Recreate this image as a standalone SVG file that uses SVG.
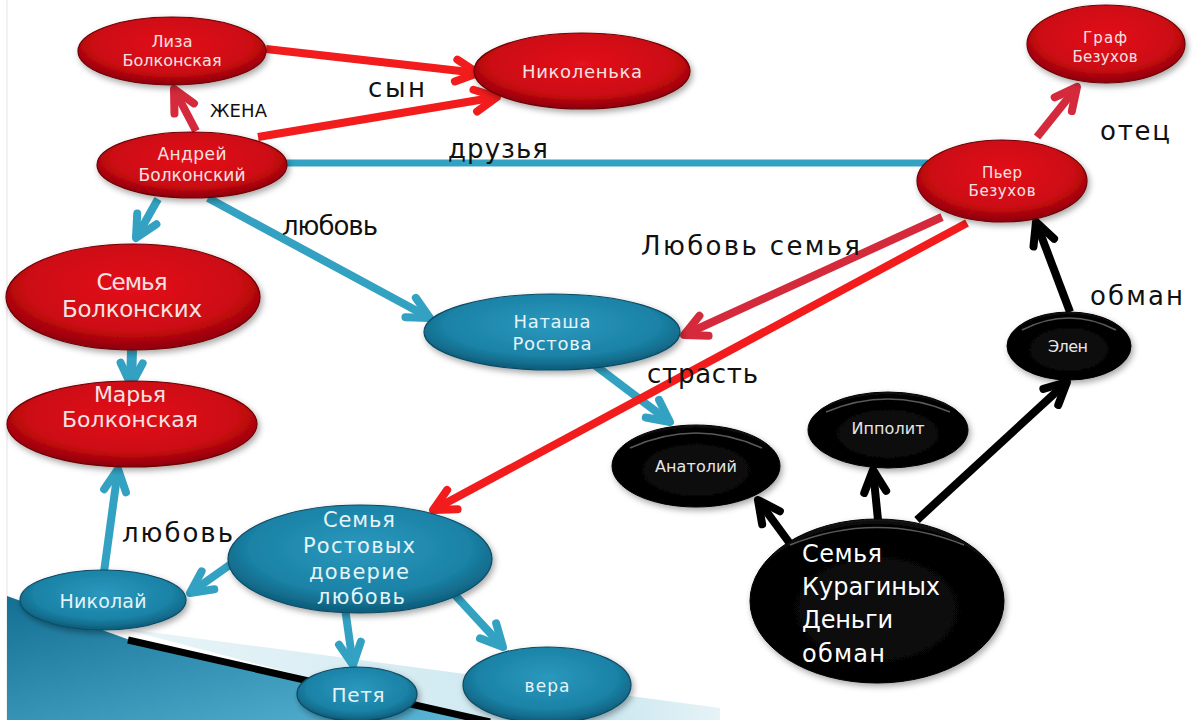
<svg xmlns="http://www.w3.org/2000/svg" width="1196" height="720" viewBox="0 0 1196 720">
<defs>
<style>
.lbl{font-family:"DejaVu Sans","Liberation Sans",sans-serif;font-size:26px;fill:#111;}
.nt{font-family:"DejaVu Sans","Liberation Sans",sans-serif;text-anchor:middle;}
.tr{fill:#f6e2e2;}
.tb{fill:#e4f4f9;}
.tk{fill:#e6e6e6;}
.red{fill:url(#gRed);stroke:#6e0006;stroke-width:1.2;filter:url(#sh);}
.blue{fill:url(#gBlue);stroke:#0b4a63;stroke-width:1.2;filter:url(#sh);}
.blk{fill:url(#gBlk);stroke:#000;stroke-width:1;filter:url(#sh);}
.gloss{fill:none;stroke:#fff;stroke-opacity:0.35;stroke-width:1.5;}
.c{fill:none;stroke-width:8;stroke-linecap:butt;}
.cr{stroke:#f21c1c;marker-end:url(#mRed);}
.cc{stroke:#d42a3b;marker-end:url(#mCrim);}
.cb{stroke:#33a2c2;marker-end:url(#mBlue);}
.ck{stroke:#000;marker-end:url(#mBlk);}
.mk{fill:none;stroke-width:8;stroke-linecap:round;stroke-linejoin:round;}
</style>
<radialGradient id="gRed" cx="50%" cy="40%" r="60%">
<stop offset="0" stop-color="#e3121b"/>
<stop offset="0.7" stop-color="#cc0a12"/>
<stop offset="1" stop-color="#8a0007"/>
</radialGradient>
<radialGradient id="gBlue" cx="50%" cy="40%" r="60%">
<stop offset="0" stop-color="#2b98bd"/>
<stop offset="0.7" stop-color="#1a82a6"/>
<stop offset="1" stop-color="#0d5b78"/>
</radialGradient>
<radialGradient id="gBlk" cx="50%" cy="55%" r="60%">
<stop offset="0" stop-color="#111"/>
<stop offset="0.85" stop-color="#000"/>
<stop offset="1" stop-color="#3a3a3a"/>
</radialGradient>
<linearGradient id="gSlab" x1="0" y1="0" x2="1" y2="1">
<stop offset="0" stop-color="#136f93"/>
<stop offset="1" stop-color="#5ab6d6"/>
</linearGradient>
<linearGradient id="gBand" x1="0" y1="0" x2="1" y2="0">
<stop offset="0" stop-color="#e9f5f9"/>
<stop offset="0.8" stop-color="#c9e6ef"/>
<stop offset="1" stop-color="#e6f3f7"/>
</linearGradient>
<filter id="sh" x="-20%" y="-20%" width="140%" height="150%">
<feDropShadow dx="2" dy="3" stdDeviation="3" flood-color="#000" flood-opacity="0.35"/>
</filter>
<marker id="mRed" viewBox="0 0 30 30" markerWidth="30" markerHeight="30" refX="25" refY="15" orient="auto" markerUnits="userSpaceOnUse" overflow="visible"><path class="mk" stroke="#f21c1c" d="M3,4 L25,15 L3,26"/></marker>
<marker id="mCrim" viewBox="0 0 30 30" markerWidth="30" markerHeight="30" refX="25" refY="15" orient="auto" markerUnits="userSpaceOnUse" overflow="visible"><path class="mk" stroke="#d42a3b" d="M3,4 L25,15 L3,26"/></marker>
<marker id="mBlue" viewBox="0 0 30 30" markerWidth="30" markerHeight="30" refX="25" refY="15" orient="auto" markerUnits="userSpaceOnUse" overflow="visible"><path class="mk" stroke="#33a2c2" d="M3,4 L25,15 L3,26"/></marker>
<marker id="mBlk" viewBox="0 0 30 30" markerWidth="30" markerHeight="30" refX="25" refY="15" orient="auto" markerUnits="userSpaceOnUse" overflow="visible"><path class="mk" stroke="#000" d="M3,4 L25,15 L3,26"/></marker>
</defs>

<rect width="1196" height="720" fill="#fff"/>
<g id="background">
<line x1="7" y1="0" x2="7" y2="720" stroke="#ececec" stroke-width="1.5"/>
<polygon points="120,628 720,708 720,720 470,720" fill="url(#gBand)"/>
<polygon points="7,596 130,640 470,720 7,720" fill="url(#gSlab)"/>
<line x1="128" y1="640" x2="490" y2="722" stroke="#000" stroke-width="7"/>
</g>

<g id="connectors">
<line class="c cr" x1="266" y1="49" x2="478" y2="73"/>
<line class="c cr" x1="258" y1="137" x2="497" y2="97"/>
<line class="c cc" x1="196" y1="131" x2="174" y2="89"/>
<line class="c cb" x1="158" y1="199" x2="136" y2="238"/>
<line x1="285" y1="163" x2="928" y2="163" stroke="#33a2c2" stroke-width="7"/>
<line class="c cb" x1="208" y1="198" x2="430" y2="318"/>
<line class="c cb" x1="132" y1="350" x2="131" y2="385" style="stroke-width:10"/>
<line class="c cb" x1="104" y1="572" x2="118" y2="469"/>
<line class="c cb" x1="231" y1="564" x2="190" y2="593"/>
<line class="c cb" x1="345" y1="608" x2="353" y2="665"/>
<line class="c cb" x1="455" y1="595" x2="503" y2="647"/>
<line class="c cb" x1="592" y1="363" x2="670" y2="422"/>
<line class="c cc" x1="942" y1="217" x2="684" y2="335"/>
<line class="c cr" x1="967" y1="223" x2="433" y2="510"/>
<line class="c cc" x1="1037" y1="137" x2="1077" y2="87"/>
<line class="c ck" x1="1070" y1="312" x2="1036" y2="222"/>
<line class="c ck" x1="791" y1="545" x2="758" y2="500"/>
<line class="c ck" x1="878" y1="520" x2="873" y2="470"/>
<line class="c ck" x1="917" y1="520" x2="1067" y2="382"/>
</g>

<g id="labels">
<text class="lbl" x="368" y="97" textLength="57">сын</text>
<text class="lbl" x="210" y="117" style="font-size:18px" textLength="57">ЖЕНА</text>
<text class="lbl" x="448" y="158" textLength="100">друзья</text>
<text class="lbl" x="282" y="235" textLength="96">любовь</text>
<text class="lbl" x="641" y="255" textLength="219">Любовь семья</text>
<text class="lbl" x="647" y="383" textLength="111">страсть</text>
<text class="lbl" x="1100" y="140" textLength="70">отец</text>
<text class="lbl" x="1090" y="305" textLength="93">обман</text>
<text class="lbl" x="122" y="542" textLength="111">любовь</text>
</g>

<g id="n-liza"><ellipse class="red" cx="172" cy="51" rx="94" ry="34"/>
<text class="nt tr" x="172" y="47" font-size="16" textLength="41">Лиза</text>
<text class="nt tr" x="172" y="66" font-size="16" textLength="99">Болконская</text></g>

<g id="n-nikolenka"><ellipse class="red" cx="582" cy="71" rx="108" ry="38"/>
<text class="nt tr" x="582" y="78" font-size="18" textLength="120">Николенька</text></g>

<g id="n-andrey"><ellipse class="red" cx="192" cy="165" rx="95" ry="33"/>
<text class="nt tr" x="192" y="160" font-size="17" textLength="69">Андрей</text>
<text class="nt tr" x="192" y="181" font-size="17" textLength="107">Болконский</text></g>

<g id="n-graf"><ellipse class="red" cx="1106" cy="44" rx="79" ry="39"/>
<text class="nt tr" x="1105" y="43" font-size="15" textLength="44">Граф</text>
<text class="nt tr" x="1105" y="62" font-size="15" textLength="65">Безухов</text></g>

<g id="n-pier"><ellipse class="red" cx="1002" cy="181" rx="85" ry="41"/>
<text class="nt tr" x="1002" y="178" font-size="15" textLength="40">Пьер</text>
<text class="nt tr" x="1002" y="196" font-size="15" textLength="67">Безухов</text></g>

<g id="n-semya-bolk"><ellipse class="red" cx="133" cy="297" rx="127" ry="53"/>
<text class="nt tr" x="132" y="290" font-size="23" textLength="71">Семья</text>
<text class="nt tr" x="132" y="317" font-size="23" textLength="140">Болконских</text></g>

<g id="n-marya"><ellipse class="red" cx="132" cy="424" rx="125" ry="43"/>
<text class="nt tr" x="130" y="402" font-size="22" textLength="72">Марья</text>
<text class="nt tr" x="130" y="427" font-size="22" textLength="136">Болконская</text></g>

<g id="n-natasha"><ellipse class="blue" cx="552" cy="332" rx="128" ry="38"/>
<text class="nt tb" x="552" y="328" font-size="18" textLength="77">Наташа</text>
<text class="nt tb" x="552" y="350" font-size="18" textLength="79">Ростова</text></g>

<g id="n-anatoly"><ellipse class="blk" cx="696" cy="466" rx="84" ry="41"/>
<path class="gloss" d="M630,448 Q696,418 762,448"/>
<text class="nt tk" x="696" y="472" font-size="16" textLength="82">Анатолий</text></g>

<g id="n-ippolit"><ellipse class="blk" cx="888" cy="430" rx="80" ry="38"/>
<path class="gloss" d="M826,412 Q888,386 950,412"/>
<text class="nt tk" x="888" y="434" font-size="16" textLength="73">Ипполит</text></g>

<g id="n-elen"><ellipse class="blk" cx="1069" cy="346" rx="62" ry="34"/>
<path class="gloss" d="M1022,330 Q1069,306 1116,330"/>
<text class="nt tk" x="1068" y="352" font-size="16" textLength="40">Элен</text></g>

<g id="n-kuragin"><ellipse class="blk" cx="877" cy="601" rx="127" ry="82"/>
<path class="gloss" d="M790,545 Q877,510 964,545"/>
<g font-family="DejaVu Sans, Liberation Sans, sans-serif" font-size="24" fill="#fff">
<text x="802" y="562" textLength="80">Семья</text>
<text x="802" y="595" textLength="138">Курагиных</text>
<text x="802" y="628" textLength="91">Деньги</text>
<text x="802" y="662" textLength="83">обман</text></g></g>

<g id="n-semya-rost"><ellipse class="blue" cx="360" cy="559" rx="132" ry="54"/>
<text class="nt tb" x="359" y="527" font-size="21" textLength="72">Семья</text>
<text class="nt tb" x="359" y="553" font-size="21" textLength="112">Ростовых</text>
<text class="nt tb" x="359" y="579" font-size="21" textLength="100">доверие</text>
<text class="nt tb" x="361" y="604" font-size="21" textLength="88">любовь</text></g>

<g id="n-nikolay"><ellipse class="blue" cx="103" cy="600" rx="83" ry="30"/>
<text class="nt tb" x="103" y="608" font-size="19" textLength="87">Николай</text></g>

<g id="n-petya"><ellipse class="blue" cx="357" cy="694" rx="60" ry="27"/>
<text class="nt tb" x="358" y="702" font-size="20" textLength="53">Петя</text></g>

<g id="n-vera"><ellipse class="blue" cx="547" cy="685" rx="84" ry="38"/>
<text class="nt tb" x="547" y="692" font-size="17" textLength="45">вера</text></g>
</svg>
